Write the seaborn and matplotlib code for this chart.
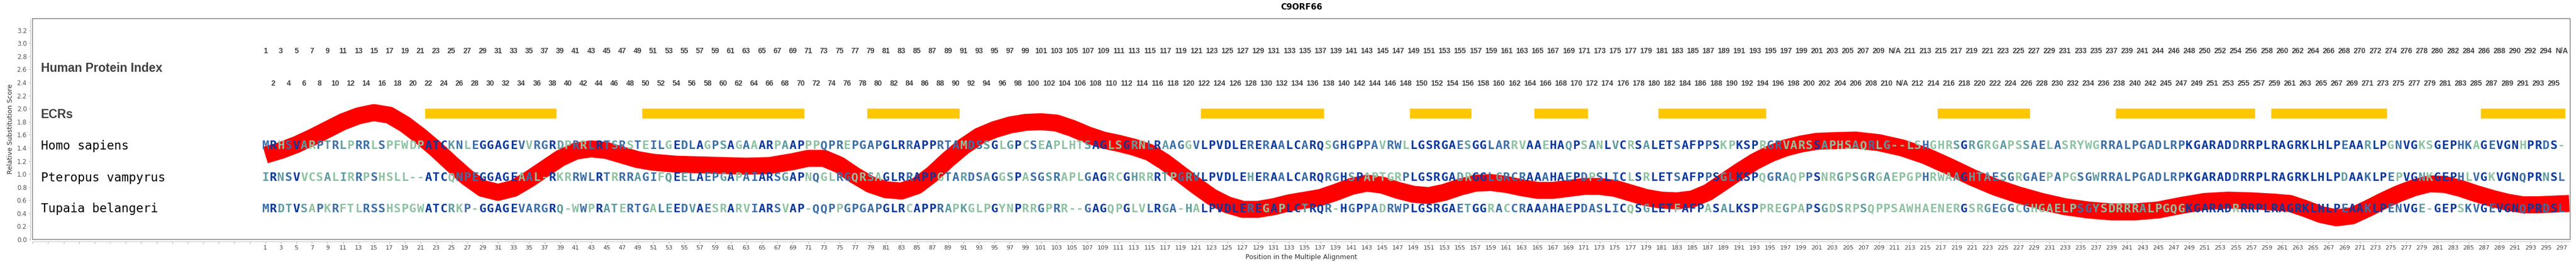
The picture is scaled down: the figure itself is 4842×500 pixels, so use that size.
import matplotlib
matplotlib.use("Agg")
import matplotlib.pyplot as plt
import seaborn as sns
import pandas as pd
from matplotlib.patches import Rectangle
from matplotlib import font_manager

# ---- data ----
species = ["Homo sapiens", "Pteropus vampyrus", "Tupaia belangeri"]

homo_parts = [
    "MRHSVARPTRLPRRLSPFWDPATCKNLEGGAGEVV",
    "RGRDPRRLRTSRSTEILGEDLAGPSAGAAARPAAPPPQPREPGAPGLRRAPPRTAMDSSGLGPCSEAPLHTSAGLSGRNL"
    "RAAGGVLPVDLERERAALCARQSGHGPPAVRWLLGSRGAESGGLARRVAAEHAQPSANLVCRSALETSAFPPSKPKSPRGRVARSS",
    "APHSAQRLG",
    "--",
    "LSHGHRSGRGRGAPSSAELASRYWGRRALPGADLRPKGARADDRRPLRA",
    "GRKLHLPEAARLPGNVGKSGEPHKAGEVGNHPRDS-",
]
ptero_parts = [
    "IRNSVVCSALIRRPSHSLL--ATCQNPEGGAGEAAL",
    "-RKRRWLRTRRRAGIFQEELAEPGAPAIARSGAPNQGLRGQRSAGLRRAPPGTARDSAGGSPASGSRAPLGAGRCGHRRRTPGR",
    "VLPVDLEHERAALCARQRGHSPAPTGRPLGSRGADRGGLGRCRAAAHAEPDPSLICLSRLETS",
    "AFPPSGLKSPQGRAQPPSN",
    "RGPSGRGAEPGPHRWAAGHTAESGRGAEPAPGSGWRRALPGADLRPKGARADDRRPLRA",
    "GRKLHLPDAAKLPEPVGNKGEPHLVGKVGNQPRNSL",
]
tupaia_parts = [
    "MRDTVSAPKRFTLRSSHSPGWATCRKP-GGAGEVA",
    "RGRQ-WWPRATERTGALEEDVAESRARVIARSVAP-QQPPGPGAPGLRCAPPRAPKGLPGYNPRRGPRR--GAGQPGLVLRGA-H",
    "ALPVDLEREGAPLCTRQR-HGPPADRWPLGSRGAET",
    "GGRACCRAAAHAEPDASLICQSGLETFAFPASALKSPPREGPAPSG",
    "DSRPSQPPSAWHAENERGSRGEGGCGHGAELPSGYSDRRRALPGQGKGARADRRRPLRA",
    "GRKLHLPEAAKLPENVGE-GEPSKVGEVGNQPRDSL",
]

# human protein index: (first alignment position, last position, offset)
index_segments = [(1, 210, 0), (213, 244, 2), (245, 296, 1)]

# evolutionarily conserved regions (alignment positions, inclusive)
ecr_start = [22, 50, 79, 122, 149, 165, 181, 217, 240, 260, 287]
ecr_end = [38, 70, 90, 137, 156, 171, 194, 228, 257, 274, 297]

# relative substitution score (smoothed curve)
score_pos = [1, 3, 5, 7, 9, 11, 13, 15, 17, 19, 21, 23, 25, 27, 29, 31, 33, 35, 37, 39,
             41, 43, 45, 47, 49, 51, 54, 57, 60, 63, 66, 69, 71, 73, 75, 77, 79, 81, 83, 85,
             87, 89, 91, 93, 95, 97, 99, 101, 103, 105, 107, 109, 111, 113, 115, 117, 119, 121, 123, 125,
             127, 129, 131, 133, 135, 137, 139, 141, 143, 145, 147, 149, 151, 153, 155, 157, 159, 161, 163, 165,
             167, 169, 171, 173, 175, 177, 179, 181, 183, 185, 187, 189, 191, 193, 195, 197, 199, 201, 203, 206,
             209, 212, 215, 218, 221, 224, 227, 230, 233, 236, 239, 242, 245, 248, 251, 254, 257, 260, 262, 264,
             266, 268, 270, 272, 274, 276, 278, 280, 282, 284, 286, 288, 290, 292, 294, 296, 298]
score_val = [1.29, 1.36, 1.45, 1.56, 1.68, 1.80, 1.89, 1.94, 1.90, 1.76, 1.58, 1.38, 1.16, 0.95, 0.78, 0.72, 0.78, 0.92, 1.08, 1.24,
             1.35, 1.385, 1.36, 1.29, 1.22, 1.18, 1.15, 1.14, 1.13, 1.12, 1.13, 1.19, 1.24, 1.24, 1.14, 0.98, 0.84, 0.76, 0.74, 0.82,
             1.00, 1.22, 1.42, 1.58, 1.68, 1.75, 1.79, 1.80, 1.78, 1.70, 1.60, 1.52, 1.47, 1.41, 1.33, 1.18, 1.00, 0.82, 0.65, 0.53,
             0.46, 0.46, 0.50, 0.56, 0.60, 0.64, 0.72, 0.81, 0.86, 0.83, 0.75, 0.69, 0.67, 0.72, 0.80, 0.86, 0.87, 0.84, 0.79, 0.75,
             0.75, 0.78, 0.81, 0.81, 0.78, 0.71, 0.64, 0.60, 0.59, 0.62, 0.72, 0.88, 1.04, 1.19, 1.31, 1.40, 1.46, 1.50, 1.51, 1.52,
             1.48, 1.40, 1.28, 1.12, 0.95, 0.80, 0.68, 0.58, 0.50, 0.45, 0.42, 0.42, 0.45, 0.52, 0.58, 0.60, 0.59, 0.57, 0.55, 0.47,
             0.38, 0.33, 0.36, 0.47, 0.59, 0.70, 0.79, 0.85, 0.84, 0.78, 0.70, 0.63, 0.57, 0.53, 0.53, 0.54, 0.55]

# ---- derived tables ----
seqs = ["".join(homo_parts), "".join(ptero_parts), "".join(tupaia_parts)]
n_pos = len(seqs[0])
assert all(len(s) == n_pos for s in seqs), [len(s) for s in seqs]

row_y = [1.43, 0.94, 0.46]
shade = {"same": "#0a389c", "pair": "#3b6ea6", "similar": "#5f9ba0", "none": "#8ec1a2"}
groups = ["AGST", "DENQ", "KRH", "ILVM", "FWY", "P", "C"]


def group_of(c):
    for g in groups:
        if c in g:
            return g
    return c


def shade_of(col, k):
    c = col[k]
    others = [col[j] for j in range(3) if j != k]
    if all(o == c for o in others):
        return shade["same"]
    if c in others:
        return shade["pair"]
    if c != "-" and any(group_of(o) == group_of(c) for o in others):
        return shade["similar"]
    return shade["none"]


def human_index(p):
    for a, b, off in index_segments:
        if a <= p <= b:
            return str(p - off)
    return "N/A"


score = pd.DataFrame({"position": score_pos, "score": score_val})

# ---- figure ----
sns.set_theme(style="white")
plt.rcParams["font.family"] = ["DejaVu Sans"]

W, H, DPI = 4842, 500, 100
fig = plt.figure(figsize=(W / DPI, H / DPI), dpi=DPI)
ax = fig.add_axes([61.3 / W, 50 / H, (4830.7 - 61.3) / W, 415 / H])
ax.set_xlim(-29, 298.1)
ax.set_ylim(0, 3.377)

sns.lineplot(data=score, x="position", y="score", color="#ff0000", linewidth=23,
             solid_capstyle="butt", ax=ax, zorder=2)

ax.barh(y=[1.928] * len(ecr_start), width=[e - s + 1 for s, e in zip(ecr_start, ecr_end)],
        left=[s - 0.5 for s in ecr_start], height=0.168, color="#ffc700", zorder=2)

names = {f.name for f in font_manager.fontManager.ttflist}
if "Liberation Sans Narrow" in names:
    idx_font, idx_size = "Liberation Sans Narrow", 12
else:
    idx_font, idx_size = "Liberation Sans", 10

for p in range(1, n_pos + 1):
    ax.text(p, 2.88 if p % 2 else 2.387, human_index(p), ha="center", va="center",
            fontsize=idx_size, fontweight="bold", family=idx_font, color="#404040", zorder=3)
    col = [s[p - 1] for s in seqs]
    for k in range(3):
        ax.text(p, row_y[k], col[k], ha="center", va="center", fontsize=16, fontweight="bold",
                family="DejaVu Sans Mono", color=shade_of(col, k), zorder=4)

tr = ax.get_yaxis_transform()
lx = (76.7 - 61.3) / (4830.7 - 61.3)
ax.text(lx, 2.62, "Human Protein Index", transform=tr, ha="left", va="center",
        fontsize=16.5, fontweight="bold", family="Liberation Sans", color="#3f3f3f")
ax.text(lx, 1.91, "ECRs", transform=tr, ha="left", va="center",
        fontsize=16.5, fontweight="bold", family="Liberation Sans", color="#3f3f3f")
for name, y in zip(species, [1.432, 0.936, 0.464]):
    ax.text(lx, y, name, transform=tr, ha="left", va="center", fontsize=16.5,
            family="DejaVu Sans Mono", color="black")

# axes styling
xt = list(range(-29, 298, 2))
ax.set_xticks(xt)
ax.set_xticklabels([str(t) if t >= 1 else "" for t in xt])
ax.set_yticks([i / 5 for i in range(17)])
ax.set_yticklabels([f"{i / 5:.1f}" for i in range(17)])
ax.tick_params(axis="x", length=3, width=0.8, color="#b8b8b8", pad=2.2, labelsize=8, labelcolor="#444444")
ax.tick_params(axis="y", length=2.5, width=0.8, color="#b8b8b8", pad=2.5, labelsize=8.5, labelcolor="#555555")
ax.tick_params(bottom=True, left=True)
for side in ["top", "right"]:
    ax.spines[side].set_visible(False)
for side in ["left", "bottom"]:
    ax.spines[side].set_position(("outward", 2.9))
    ax.spines[side].set_color("#c4c4c4")
    ax.spines[side].set_linewidth(0.8)
ax.add_patch(Rectangle((0, 0), 1, 1, transform=ax.transAxes, fill=False,
                       edgecolor="#808080", linewidth=1.1, clip_on=False, zorder=5))
ax.set_xlabel("")
ax.set_ylabel("")

cx = (61.3 + 4830.7) / 2 / W
fig.text(20 / W, 0.515, "Relative Substitution Score", rotation=90, ha="center", va="center",
         fontsize=9, color="#333333")
fig.text(cx, 17 / H, "Position in the Multiple Alignment", ha="center", va="center",
         fontsize=9, color="#333333")
fig.text(cx, 1 - 14 / H, "C9ORF66", ha="center", va="center", fontsize=11,
         fontweight="bold", color="black")

fig.savefig("out.png", dpi=DPI)
